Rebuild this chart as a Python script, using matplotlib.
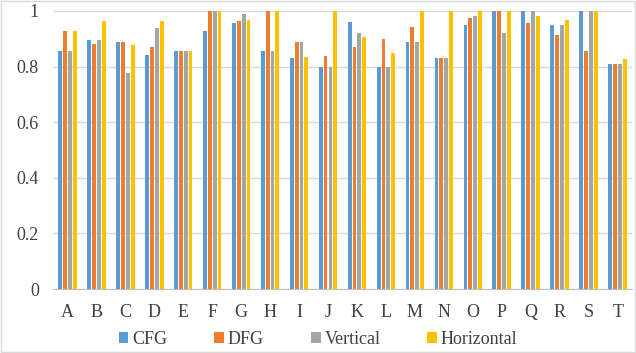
import matplotlib.pyplot as plt
import numpy as np
from matplotlib.patches import Rectangle

plt.rcParams['font.family'] = ['Liberation Serif', 'DejaVu Serif']

categories = list("ABCDEFGHIJKLMNOPQRST")
cfg = [0.856, 0.894, 0.887, 0.840, 0.856, 0.927, 0.956, 0.856, 0.831, 0.800,
       0.960, 0.800, 0.887, 0.831, 0.948, 1.000, 1.000, 0.950, 1.000, 0.808]
dfg = [0.927, 0.881, 0.887, 0.870, 0.856, 1.000, 0.965, 1.000, 0.887, 0.838,
       0.869, 0.898, 0.942, 0.831, 0.976, 1.000, 0.957, 0.914, 0.856, 0.808]
vertical = [0.856, 0.894, 0.778, 0.939, 0.856, 1.000, 0.988, 0.856, 0.887, 0.800,
            0.922, 0.800, 0.887, 0.831, 0.983, 0.922, 1.000, 0.950, 1.000, 0.808]
horizontal = [0.927, 0.963, 0.876, 0.963, 0.856, 1.000, 0.968, 1.000, 0.836, 1.000,
              0.908, 0.849, 1.000, 1.000, 1.000, 1.000, 0.982, 0.966, 1.000, 0.828]

series = [("CFG", cfg, "#5B9BD5"), ("DFG", dfg, "#ED7D31"),
          ("Vertical", vertical, "#A5A5A5"), ("Horizontal", horizontal, "#FFC000")]

fig = plt.figure(figsize=(6.36, 3.53), dpi=100)
ax = fig.add_axes([0.083, 0.181, 0.911, 0.788])

x = np.arange(len(categories))
slot = 0.17
bw = 0.135
for i, (name, vals, col) in enumerate(series):
    ax.bar(x + (i - 1.5) * slot, vals, bw, color=col, label=name, zorder=3)

ax.set_xlim(-0.5, len(categories) - 0.5)
ax.set_ylim(0, 1)
ax.set_yticks([0, 0.2, 0.4, 0.6, 0.8, 1.0])
ax.set_yticklabels(["0", "0.2", "0.4", "0.6", "0.8", "1"])
ax.set_xticks(x)
ax.set_xticklabels(categories)
ax.grid(axis='y', color='#D9D9D9', linewidth=1, zorder=0)
for s in ['top', 'right', 'left']:
    ax.spines[s].set_visible(False)
ax.spines['bottom'].set_color('#BFBFBF')
ax.tick_params(length=0, labelsize=13, colors='#404040')
ax.tick_params(axis='x', pad=11)
ax.tick_params(axis='y', pad=10)

fig.legend(loc='center', bbox_to_anchor=(0.5, 0.038), ncol=4, frameon=False,
           fontsize=13, handlelength=0.55, handleheight=0.55, handletextpad=0.2,
           columnspacing=2.6, labelcolor='#404040')

fig.patches.append(Rectangle((0.002, 0.003), 0.996, 0.994, transform=fig.transFigure,
                             fill=False, edgecolor='#D9D9D9', linewidth=1))

fig.savefig("out.png", dpi=100)
